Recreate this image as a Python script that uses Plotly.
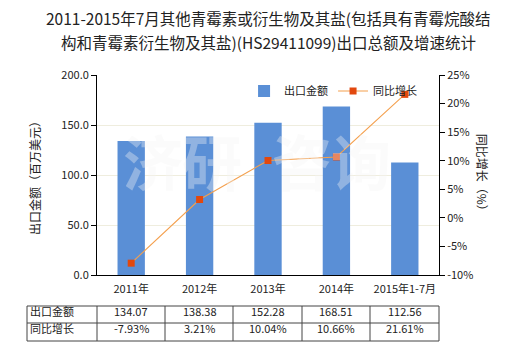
import plotly.graph_objects as go

# Export value (million USD) and year-on-year growth (%)
categories = ["2011年", "2012年", "2013年", "2014年", "2015年1-7月"]
export_value = [134.07, 138.38, 152.28, 168.51, 112.56]
yoy_growth = [-7.93, 3.21, 10.04, 10.66, 21.61]
value_labels = ["134.07", "138.38", "152.28", "168.51", "112.56"]
growth_labels = ["-7.93%", "3.21%", "10.04%", "10.66%", "21.61%"]
row_names = ["出口金额", "同比增长"]
left_ticks = [0, 50, 100, 150, 200]
right_ticks = [-10, -5, 0, 5, 10, 15, 20, 25]
title_lines = [
    "2011-2015年7月其他青霉素或衍生物及其盐(包括具有青霉烷酸结",
    "构和青霉素衍生物及其盐)(HS29411099)出口总额及增速统计",
]

FONT = "Noto Sans CJK SC, Microsoft YaHei, sans-serif"
TXT = "#222222"

fig = go.Figure()

fig.add_trace(go.Bar(
    x=categories, y=export_value, name=row_names[0],
    marker=dict(color="#5a8fd6", line=dict(width=0)),
    width=0.4, yaxis="y",
))
fig.add_trace(go.Scatter(
    x=categories, y=yoy_growth, name=row_names[1], mode="lines+markers",
    line=dict(color="#f4a04e", width=1.1),
    marker=dict(symbol="square", size=7, color="#e2480e"),
    yaxis="y2",
))

# faint watermark
for i, ch in enumerate("济研咨询"):
    fig.add_annotation(
        x=0.07 + i * 0.265, y=0.58, xref="paper", yref="paper",
        text="<b>" + ch + "</b>", showarrow=False,
        font=dict(family=FONT, size=60, color="rgba(245,245,245,0.36)"),
    )

# title, two centred lines
for k, line in enumerate(title_lines):
    fig.add_annotation(x=0.5, y=[1.285, 1.165][k], xref="paper", yref="paper",
                       text=line, showarrow=False, xanchor="center", yanchor="middle",
                       font=dict(family=FONT, size=15.5, color=TXT))

# data table under the chart (paper coordinates)
PW, PH = 342.0, 200.0
def px(x):
    return (x - 97) / PW
def py(y):
    return (275 - y) / PH

y_top, y_mid, y_bot = py(306), py(323), py(341)
col_edges = [27, 97, 165, 233, 302, 370, 439]
line_style = dict(color="#444444", width=1)
for yy in (y_top, y_mid, y_bot):
    fig.add_shape(type="line", xref="paper", yref="paper", x0=px(27), x1=px(439),
                  y0=yy, y1=yy, line=line_style)
for xx in col_edges:
    fig.add_shape(type="line", xref="paper", yref="paper", x0=px(xx), x1=px(xx),
                  y0=y_top, y1=y_bot, line=line_style)

text_drop = 0.03
row_centers = [(y_top + y_mid) / 2 - text_drop, (y_mid + y_bot) / 2 - text_drop]
for r, name in enumerate(row_names):
    fig.add_annotation(x=px(28), y=row_centers[r], xref="paper", yref="paper",
                       text=name, showarrow=False, xanchor="left",
                       font=dict(family=FONT, size=11, color=TXT))
for i in range(len(categories)):
    for r, labels in enumerate((value_labels, growth_labels)):
        fig.add_annotation(x=i, y=row_centers[r], xref="x", yref="paper",
                           text=labels[i], showarrow=False,
                           font=dict(family=FONT, size=11, color=TXT))

# right axis title, reading top to bottom
fig.add_annotation(x=1.16, y=0.5, xref="paper", yref="paper",
                   text="同比增长（%）", textangle=90, showarrow=False,
                   font=dict(family=FONT, size=12, color=TXT))

fig.update_layout(
    width=520, height=350,
    margin=dict(l=97, r=81, t=75, b=75),
    paper_bgcolor="white", plot_bgcolor="white",
    font=dict(family=FONT, size=11, color=TXT),
    showlegend=True,
    legend=dict(orientation="h", x=0.43, y=0.92, xanchor="left", yanchor="middle",
                bgcolor="rgba(0,0,0,0)", font=dict(family=FONT, size=11, color=TXT),
                itemwidth=30, traceorder="normal"),
    bargap=0.6,
    xaxis=dict(
        type="category", showline=True, linecolor="#000000", linewidth=1,
        ticks="", tickfont=dict(family=FONT, size=11, color=TXT),
        ticklabelstandoff=4,
        showgrid=False, range=[-0.5, 4.5],
    ),
    yaxis=dict(
        range=[0, 200], tickvals=left_ticks, tickformat=".1f",
        showline=True, linecolor="#000000", linewidth=1,
        ticks="outside", ticklen=5, tickcolor="#000000",
        showgrid=True, gridcolor="#efedde", gridwidth=1,
        zeroline=False,
        title=dict(text="出口金额（百万美元）", standoff=18,
                   font=dict(family=FONT, size=12, color=TXT)),
    ),
    yaxis2=dict(
        range=[-10, 25], tickvals=right_ticks,
        ticktext=[f"{v}%" for v in right_ticks],
        overlaying="y", side="right",
        showline=True, linecolor="#000000", linewidth=1,
        ticks="outside", ticklen=5, tickcolor="#000000",
        showgrid=False, zeroline=False,
    ),
)

fig.write_html("out.html")
